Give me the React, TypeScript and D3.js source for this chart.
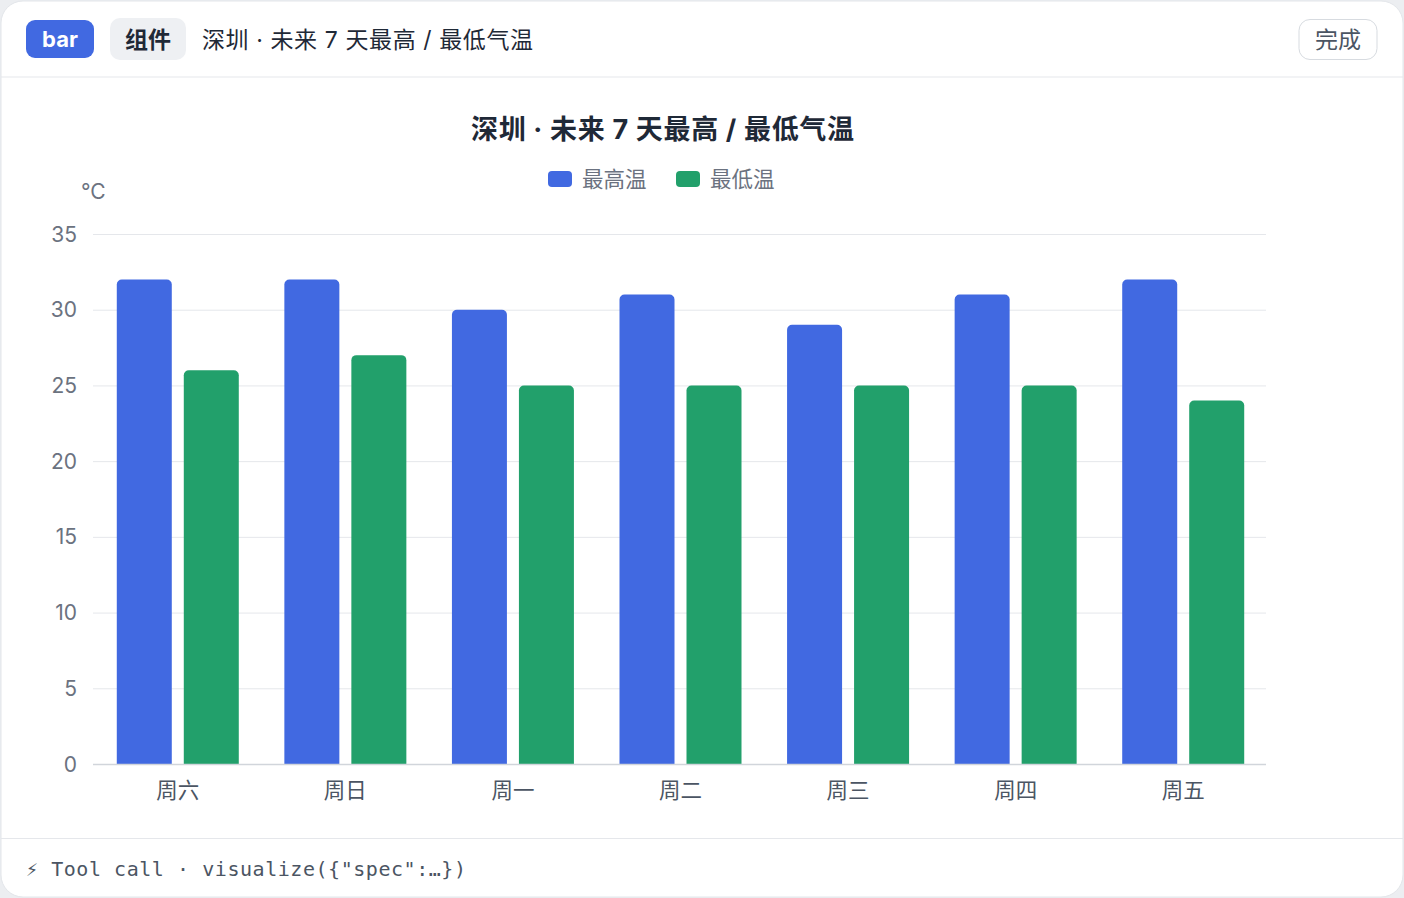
import React from "react";
import * as d3 from "d3";

const categories = ["周六", "周日", "周一", "周二", "周三", "周四", "周五"];
const highTemps = [32, 32, 30, 31, 29, 31, 32];
const lowTemps = [26, 27, 25, 25, 25, 25, 24];
const seriesNames = ["最高温", "最低温"];
const seriesColors = ["#4169E1", "#22A06B"];
const yTicks = [0, 5, 10, 15, 20, 25, 30, 35];
const chartTitle = "深圳 · 未来 7 天最高 / 最低气温";
const unitLabel = "°C";

const W = 1404;
const H = 898;
const FONT = "Inter, 'Noto Sans CJK SC', 'Noto Sans', sans-serif";

function topRoundedRect(x: number, y: number, w: number, h: number, r: number) {
  const rr = Math.min(r, w / 2, h);
  const p = d3.path();
  p.moveTo(x, y + h);
  p.lineTo(x, y + rr);
  p.arcTo(x, y, x + rr, y, rr);
  p.lineTo(x + w - rr, y);
  p.arcTo(x + w, y, x + w, y + rr, rr);
  p.lineTo(x + w, y + h);
  p.closePath();
  return p.toString();
}

export default function App() {
  const left = 93;
  const right = 1266;
  const top = 234;
  const bottom = 764;

  const x = d3.scaleBand<string>().domain(categories).range([left, right]).paddingInner(0).paddingOuter(0);
  const y = d3.scaleLinear().domain([0, 35]).range([bottom, top]);
  const step = x.bandwidth();
  const barW = 55;
  const gap = 12;
  const groupW = barW * 2 + gap;
  const series = [highTemps, lowTemps];

  return (
    <div style={{ position: "fixed", left: 0, top: 0, width: W, height: H, background: "#eceef1" }}>
      <svg width={W} height={H} style={{ display: "block", fontFamily: FONT }}>
        <rect x={1} y={1} width={W - 2} height={H - 2} rx={22} fill="#ffffff" stroke="#e3e6ea" />
        {/* header */}
        <line x1={1} x2={W - 1} y1={77} y2={77} stroke="#e5e7eb" />
        <rect x={26} y={20} width={68} height={38} rx={9} fill="#4169E1" />
        <text x={60} y={47} textAnchor="middle" fill="#fff" fontSize={22} fontWeight={700}>bar</text>
        <rect x={110} y={18} width={76} height={42} rx={10} fill="#eef0f3" />
        <text x={148} y={48} textAnchor="middle" fill="#1f2937" fontSize={23} fontWeight={700}>组件</text>
        <text x={202} y={48} fill="#1f2937" fontSize={23} textLength={331} lengthAdjust="spacing">{chartTitle}</text>
        <rect x={1299} y={19.5} width={78} height={40} rx={11} fill="#fff" stroke="#d7dbe0" />
        <text x={1338} y={48} textAnchor="middle" fill="#4b5563" fontSize={23}>完成</text>

        {/* footer */}
        <line x1={1} x2={W - 1} y1={838.5} y2={838.5} stroke="#e5e7eb" />
        <text x={26} y={876} fill="#4b5563" fontSize={20} textLength={440} lengthAdjust="spacing"
          fontFamily="'DejaVu Sans Mono', 'Liberation Mono', monospace">
          {"⚡ Tool call · visualize({\"spec\":…})"}
        </text>

        {/* title */}
        <text x={471} y={139} fill="#1f2937" fontSize={27} fontWeight={700} textLength={383} lengthAdjust="spacing">{chartTitle}</text>

        {/* legend */}
        {seriesNames.map((n, i) => {
          const lx = 548 + i * 128;
          return (
            <g key={n}>
              <rect x={lx} y={171} width={24} height={16} rx={4} fill={seriesColors[i]} />
              <text x={lx + 34} y={187} fill="#6b7280" fontSize={21.5}>{n}</text>
            </g>
          );
        })}

        {/* unit */}
        <text x={81} y={199} fill="#6b7280" fontSize={21}>{unitLabel}</text>

        {/* grid */}
        {yTicks.map((t) => (
          <g key={t}>
            {t !== 0 && <line x1={left} x2={right} y1={y(t) + 0.5} y2={y(t) + 0.5} stroke="#e5e7eb" />}
            <text x={77} y={y(t) + 7.5} textAnchor="end" fill="#6b7280" fontSize={21}>{t}</text>
          </g>
        ))}

        {/* bars */}
        {categories.map((c, ci) => {
          const bx = (x(c) as number) + (step - groupW) / 2 + 1;
          return (
            <g key={c}>
              {series.map((vals, si) => {
                const xx = bx + si * (barW + gap);
                const yy = y(vals[ci]);
                return (
                  <path key={si} d={topRoundedRect(xx, yy, barW, bottom - yy, 5)} fill={seriesColors[si]} />
                );
              })}
              <text x={(x(c) as number) + step / 2 + 1} y={798} textAnchor="middle" fill="#4b5563" fontSize={21.5}>{c}</text>
            </g>
          );
        })}
        <line x1={left} x2={right} y1={bottom + 0.5} y2={bottom + 0.5} stroke="#d1d5db" strokeWidth={1.5} />
      </svg>
    </div>
  );
}
